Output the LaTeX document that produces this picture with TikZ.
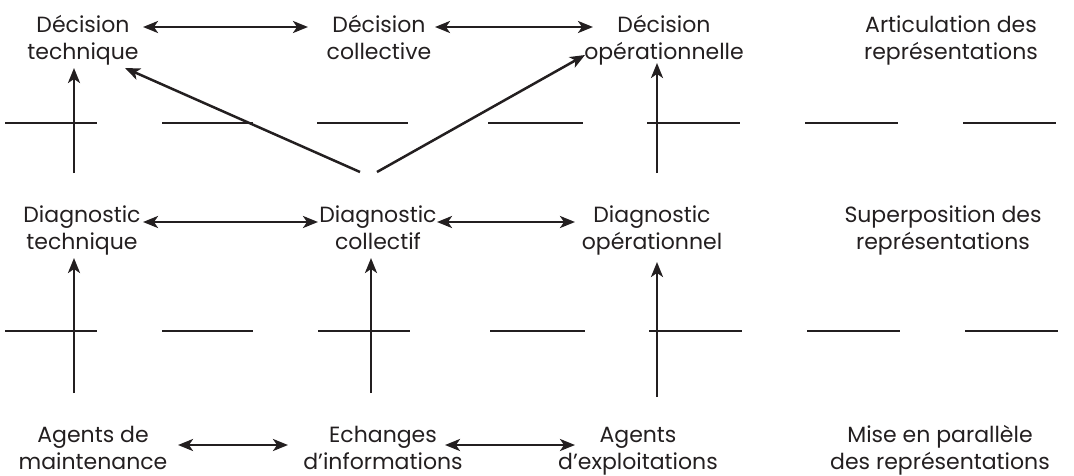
\documentclass[tikz,border=0pt]{standalone}
\usepackage{fontspec}
\setmainfont{Poppins}
\usetikzlibrary{arrows.meta}
\definecolor{ink}{HTML}{231F20}
\begin{document}
\begin{tikzpicture}[x=1pt,y=-1pt,
  lbl/.style={align=center,font=\fontsize{22}{27}\selectfont,inner sep=0pt,anchor=base,text=ink},
  ln/.style={line width=2.5pt,draw=ink},
  tip/.tip={Stealth[length=15pt,width=12pt,inset=4pt]},
  arr/.style={ln,-tip},
  darr/.style={ln,tip-tip}]
\useasboundingbox (0,0) rectangle (1074,475);
% labels (anchor = baseline of the last line)
\node[lbl] (dect) at (83,59) {Décision\\technique};
\node[lbl] (decc) at (379,59) {Décision\\collective};
\node[lbl] (deco) at (664,59) {Décision\\opérationnelle};
\node[lbl] (art)  at (951,59) {Articulation des\\représentations};
\node[lbl] (diat) at (82,249) {Diagnostic\\technique};
\node[lbl] (diac) at (378,249) {Diagnostic\\collectif};
\node[lbl] (diao) at (652,249) {Diagnostic\\opérationnel};
\node[lbl] (sup)  at (943,249) {Superposition des\\représentations};
\node[lbl] (agm)  at (93,469) {Agents de\\maintenance};
\node[lbl] (ech)  at (383,469) {Echanges\\d’informations};
\node[lbl] (age)  at (638,469) {Agents\\d’exploitations};
\node[lbl] (mise) at (940,469) {Mise en parallèle\\des représentations};
% dashed separators
\foreach \a/\b in {5/97,162/253,317/408,488/583,647/740,805/898,963/1056}
  \draw[ln] (\a,123) -- (\b,123);
\foreach \a/\b in {5/97,162/253,318/410,490/585,649/742,807/900,965/1058}
  \draw[ln] (\a,331) -- (\b,331);
% arrow end points
\coordinate (h1a) at (143,27);  \coordinate (h1b) at (308,27);
\coordinate (h2a) at (435,27);  \coordinate (h2b) at (593,27);
\coordinate (h3a) at (143,222); \coordinate (h3b) at (318,222);
\coordinate (h4a) at (437,222); \coordinate (h4b) at (575,222);
\coordinate (h5a) at (178,445); \coordinate (h5b) at (288,445);
\coordinate (h6a) at (445,445); \coordinate (h6b) at (575,445);
\coordinate (v1a) at (74,173);  \coordinate (v1b) at (74,68);
\coordinate (v2a) at (657,173); \coordinate (v2b) at (657,63);
\coordinate (v3a) at (74,393);  \coordinate (v3b) at (74,258);
\coordinate (v4a) at (371,393); \coordinate (v4b) at (371,258);
\coordinate (v5a) at (657,397); \coordinate (v5b) at (657,262);
\coordinate (d1a) at (360,172); \coordinate (d1b) at (125,68);
\coordinate (d2a) at (377,172); \coordinate (d2b) at (585,55);
% arrows
\draw[darr] (h1a) -- (h1b);
\draw[darr] (h2a) -- (h2b);
\draw[darr] (h3a) -- (h3b);
\draw[darr] (h4a) -- (h4b);
\draw[darr] (h5a) -- (h5b);
\draw[darr] (h6a) -- (h6b);
\draw[arr] (v1a) -- (v1b);
\draw[arr] (v2a) -- (v2b);
\draw[arr] (v3a) -- (v3b);
\draw[arr] (v4a) -- (v4b);
\draw[arr] (v5a) -- (v5b);
\draw[arr] (d1a) -- (d1b);
\draw[arr] (d2a) -- (d2b);
\end{tikzpicture}
\end{document}
